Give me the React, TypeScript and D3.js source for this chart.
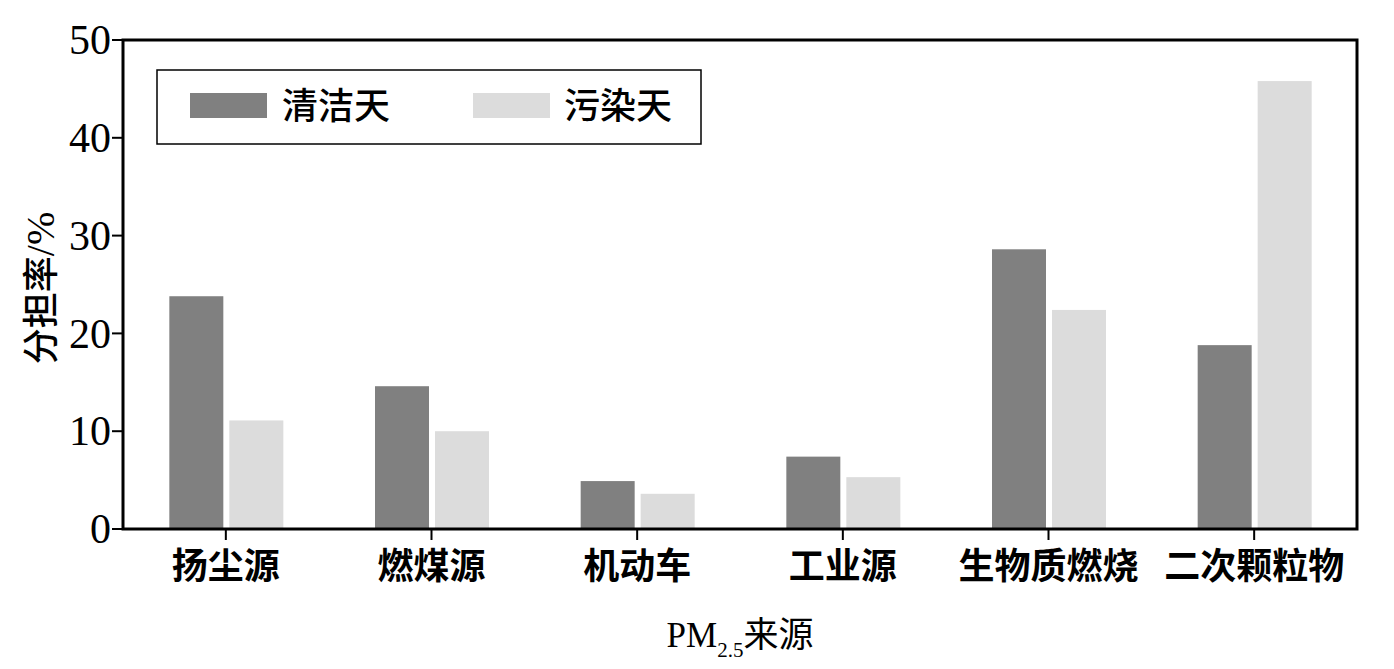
import React from "react";
import * as d3 from "d3";

const categories = ["扬尘源", "燃煤源", "机动车", "工业源", "生物质燃烧", "二次颗粒物"];
const cleanValues = [23.8, 14.6, 4.9, 7.4, 28.6, 18.8];
const pollutedValues = [11.1, 10.0, 3.6, 5.3, 22.4, 45.8];
const seriesNames = ["清洁天", "污染天"];
const seriesColors = ["#808080", "#dcdcdc"];
const yTicks = [0, 10, 20, 30, 40, 50];

const W = 1394, H = 669;
const left = 123, right = 1357, top = 40, bottom = 529;
const CJK = "'Noto Sans CJK SC', sans-serif";
const SERIF = "'Liberation Serif', 'Times New Roman', serif";

export default function App() {
  const x = d3.scaleBand<string>().domain(categories).range([left, right]);
  const y = d3.scaleLinear().domain([0, 50]).range([bottom, top]);
  const bw = 54, gap = 5;
  const series = [cleanValues, pollutedValues];
  return (
    <svg width={W} height={H} style={{ position: "absolute", left: 0, top: 0, background: "#fff" }}>
      {categories.map((c, i) => {
        const cx = (x(c) as number) + x.bandwidth() / 2;
        return series.map((vals, s) => {
          const x0 = s === 0 ? cx - gap / 2 - bw : cx + gap / 2 + 1;
          return (
            <rect key={c + s} x={x0} y={y(vals[i])} width={bw} height={bottom - y(vals[i])} fill={seriesColors[s]} />
          );
        });
      })}
      <rect x={left} y={top} width={right - left} height={bottom - top} fill="none" stroke="#000" strokeWidth={3} />
      {yTicks.map(t => (
        <g key={t}>
          <line x1={left - 11} x2={left} y1={y(t)} y2={y(t)} stroke="#000" strokeWidth={2} />
          <text x={left - 12} y={y(t)} dy="0.34em" textAnchor="end" fontFamily={SERIF} fontSize={42}>{t}</text>
        </g>
      ))}
      {categories.map(c => {
        const cx = (x(c) as number) + x.bandwidth() / 2;
        return (
          <g key={c}>
            <line x1={cx} x2={cx} y1={bottom} y2={bottom + 11} stroke="#000" strokeWidth={2} />
            <text x={cx} y={579} textAnchor="middle" fontFamily={CJK} fontWeight={700} fontSize={36}>{c}</text>
          </g>
        );
      })}
      <text x={740} y={647} textAnchor="middle" fontFamily={SERIF} fontSize={35}>
        <tspan>PM</tspan>
        <tspan fontSize={21} dy={10}>2.5</tspan>
        <tspan fontFamily={CJK} fontSize={35} dy={-10}>来源</tspan>
      </text>
      <text transform="translate(54,288) rotate(-90)" textAnchor="middle" fontFamily={CJK} fontWeight={500} fontSize={36}>
        分担率<tspan fontFamily={SERIF} fontWeight={400} fontSize={40}>/%</tspan>
      </text>
      <rect x={157} y={70} width={544} height={74} fill="#fff" stroke="#000" strokeWidth={1.5} />
      {seriesNames.map((n, s) => (
        <g key={n}>
          <rect x={190 + s * 283} y={93} width={77} height={25} fill={seriesColors[s]} />
          <text x={282 + s * 282} y={106} dy="0.36em" fontFamily={CJK} fontWeight={500} fontSize={36}>{n}</text>
        </g>
      ))}
    </svg>
  );
}
